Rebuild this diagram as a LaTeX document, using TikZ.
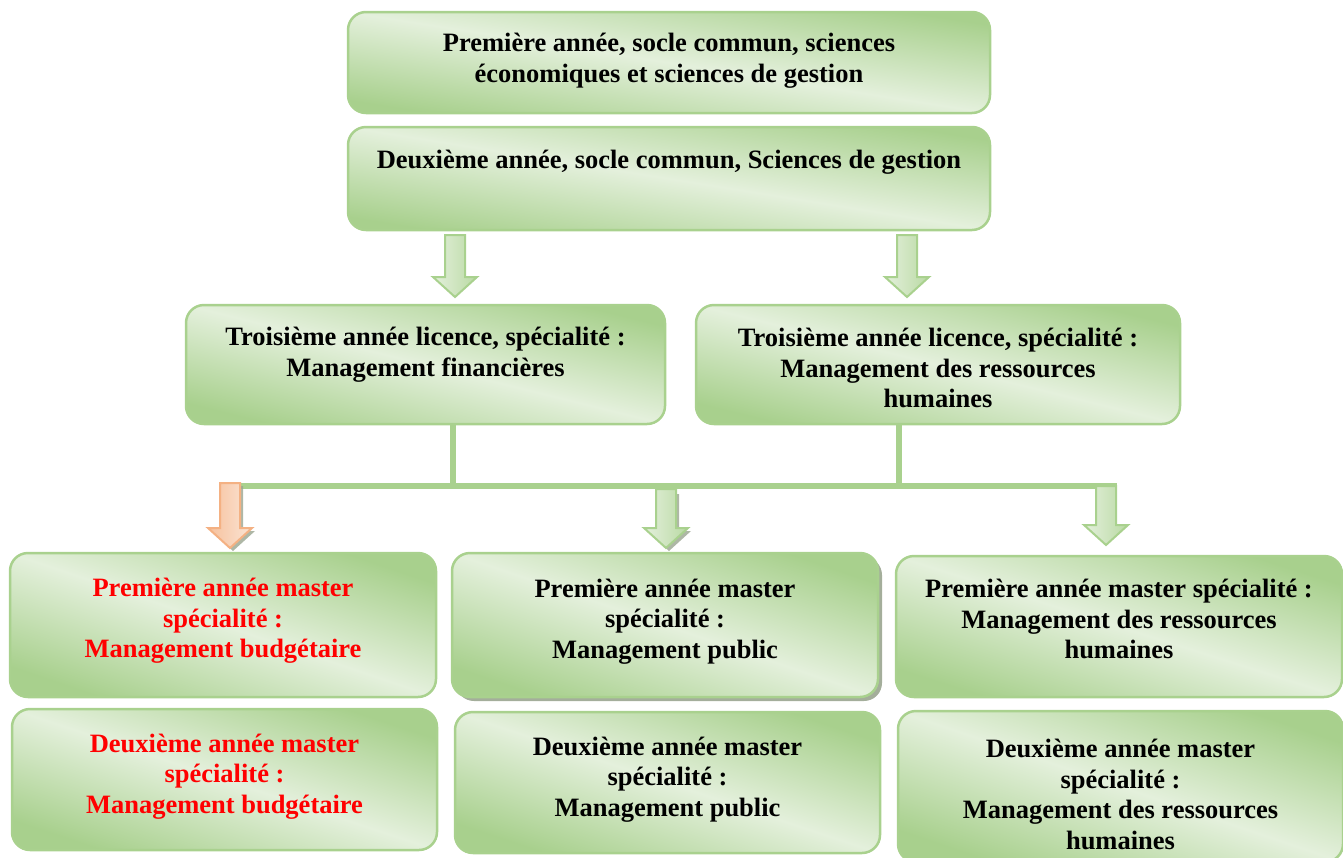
\documentclass[tikz,border=0pt]{standalone}
\usepackage{fontspec}
\setmainfont{Liberation Serif}
\usetikzlibrary{shadows}
\definecolor{gA}{HTML}{A8D08D}
\definecolor{gL}{HTML}{E4F0DC}
\definecolor{gB}{HTML}{A9D18E}
\definecolor{oA}{HTML}{F4B183}
\definecolor{oL}{HTML}{FBE5D6}
\definecolor{redT}{HTML}{FF0000}
\definecolor{shad}{HTML}{9AA590}
\newcommand\blockarr[4]{%
  \path[#4] ({#1-10},#2) -- ({#1+10},#2) -- ({#1+10},{#3-20}) -- ({#1+22},{#3-20}) -- (#1,#3) -- ({#1-22},{#3-20}) -- ({#1-10},{#3-20}) -- cycle;}
\tikzset{
  box/.style 2 args={draw=gB, line width=2.5pt, rounded corners=18pt, inner sep=0pt,
    minimum width=#1pt, minimum height=#2pt,
    top color=gA, bottom color=gA, middle color=gL, shading angle={-atan((#2)/(#1))}},
  txt/.style={align=center, inner sep=0pt,
    font=\fontsize{26.5}{30.7}\selectfont\bfseries},
  redtxt/.style={text=redT},
  conn/.style={draw=gB, line width=6.5pt},
  garr/.style={draw=gB, line width=2pt, left color=gL, right color=gA!80},
  oarr/.style={draw=oA, line width=2pt, left color=oA!80, right color=oL},
  sarr/.style={fill=shad, opacity=0.8}}
\begin{document}
\begin{tikzpicture}[x=1pt,y=-1pt]
\path[use as bounding box] (0,0) rectangle (1343,857);
\clip (0,0) rectangle (1343,857);

% top boxes
\node[box={642}{101}] (b1) at (669,62.5) {};
\node[txt] (b1t) at ([yshift=2pt]b1.center)
  {Première année, socle commun, sciences\\économiques et sciences de gestion};
\node[box={642}{103}] (b2) at (669,178.5) {};
\node[txt] (b2t) at ([yshift=16pt]b2.center)
  {Deuxième année, socle commun, Sciences de gestion};

% arrows to third year
\blockarr{455}{235}{297}{garr}
\blockarr{907}{235}{297}{garr}

% third year
\node[box={479}{119}] (l3) at (425.5,364.5) {};
\node[txt] (l3t) at ([yshift=9.5pt]l3.center)
  {Troisième année licence, spécialité :\\Management financières};
\node[box={484}{119}] (r3) at (938,364.5) {};
\node[txt] (r3t) at ([yshift=-3.5pt]r3.center)
  {Troisième année licence, spécialité :\\Management des ressources\\humaines};

% connectors
\coordinate (jL) at (453,486);
\coordinate (jR) at (899,486);
\coordinate (hL) at (227,486);
\coordinate (hR) at (1117,486);
\draw[conn] (l3.south -| jL) -- (jL);
\draw[conn] (r3.south -| jR) -- (jR);
\draw[conn] (hL) -- (hR);

% arrows to masters (with shadows)
\blockarr{233}{486}{551}{sarr}
\blockarr{230}{483}{548}{oarr}
\blockarr{669}{494}{551}{sarr}
\blockarr{666}{489}{548}{garr}
\blockarr{1106}{486}{545}{garr}

% master boxes
\node[box={426}{144}] (m1l) at (223,625) {};
\node[txt, redtxt] (m1lt) at ([yshift=4pt]m1l.center)
  {Première année master\\spécialité :\\Management budgétaire};
\node[box={425}{141}] (m2l) at (224.5,779.5) {};
\node[txt, redtxt] (m2lt) at ([yshift=3pt]m2l.center)
  {Deuxième année master\\spécialité :\\Management budgétaire};
\node[box={426}{144},
  drop shadow={shadow xshift=4pt, shadow yshift=-4pt, fill=shad, opacity=0.9}] (m1m) at (665,625) {};
\node[txt] (m1mt) at ([yshift=3.5pt]m1m.center)
  {Première année master\\spécialité :\\Management public};
\node[box={425}{141}] (m2m) at (667.5,782.5) {};
\node[txt] (m2mt) at ([yshift=3pt]m2m.center)
  {Deuxième année master\\spécialité :\\Management public};
\node[box={446}{141}] (m1r) at (1119,626.5) {};
\node[txt] (m1rt) at ([yshift=7.5pt]m1r.center)
  {Première année master spécialité :\\Management des ressources\\humaines};
\node[box={445}{151}] (m2r) at (1120.5,786.5) {};
\node[txt] (m2rt) at ([yshift=-8pt]m2r.center)
  {Deuxième année master\\spécialité :\\Management des ressources\\humaines};
\end{tikzpicture}
\end{document}
